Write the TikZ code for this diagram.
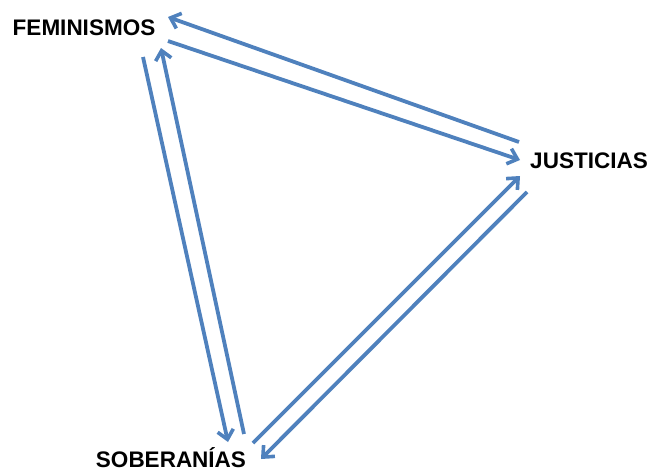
\documentclass[tikz,border=0pt]{standalone}
\usepackage{fontspec}
\setmainfont{Liberation Sans}
\usetikzlibrary{arrows.meta}
\definecolor{arrowblue}{RGB}{79,129,189}
\tikzset{
  lbl/.style={font=\fontsize{22.5}{26}\selectfont\bfseries, text=black, inner sep=0pt},
  conn/.style={draw=arrowblue, line width=3.8pt, -{Straight Barb[length=9pt,width=16pt,line width=3.6pt]}}
}
\begin{document}
\begin{tikzpicture}[x=1pt,y=-1pt]
\useasboundingbox (0,0) rectangle (653,471);
\node[lbl] (fem) at (84,28) {FEMINISMOS};
\node[lbl] (jus) at (589,161) {JUSTICIAS};
\node[lbl] (sob) at (171,458) {SOBERANÍAS};
% endpoints
\coordinate (a1s) at (519,142); \coordinate (a1e) at (168,17);
\coordinate (a2s) at (168,41);  \coordinate (a2e) at (520,160);
\coordinate (a3s) at (143,57);  \coordinate (a3e) at (228,442);
\coordinate (a4s) at (244,434); \coordinate (a4e) at (161,48);
\coordinate (a5s) at (253,443); \coordinate (a5e) at (520,176);
\coordinate (a6s) at (527,192); \coordinate (a6e) at (261,459);
\draw[conn] (a1s) -- (a1e);
\draw[conn] (a2s) -- (a2e);
\draw[conn] (a3s) -- (a3e);
\draw[conn] (a4s) -- (a4e);
\draw[conn] (a5s) -- (a5e);
\draw[conn] (a6s) -- (a6e);
\end{tikzpicture}
\end{document}
